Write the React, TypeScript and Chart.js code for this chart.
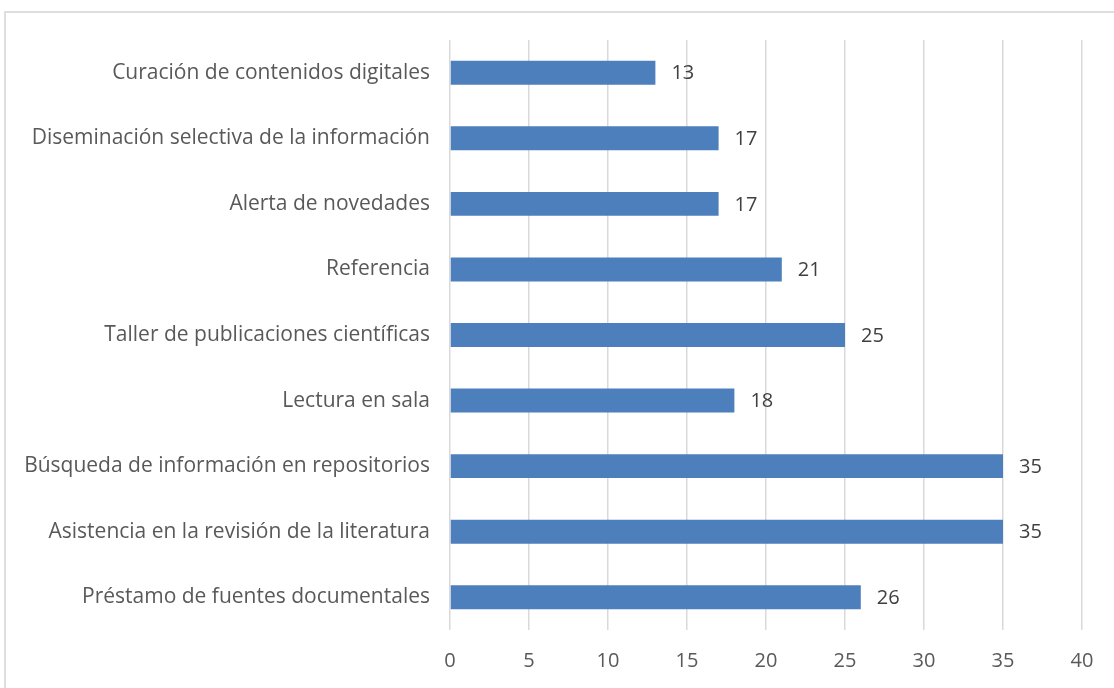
import React, { useEffect, useRef } from "react";
import { Chart, registerables } from "chart.js";

Chart.register(...registerables);

const categories = [
  "Curación de contenidos digitales",
  "Diseminación selectiva de la información",
  "Alerta de novedades",
  "Referencia",
  "Taller de publicaciones científicas",
  "Lectura en sala",
  "Búsqueda de información en repositorios",
  "Asistencia en la revisión de la literatura",
  "Préstamo de fuentes documentales",
];
const values = [13, 17, 17, 21, 25, 18, 35, 35, 26];
const xMin = 0;
const xMax = 40;
const xStep = 5;

const FONT = "'Open Sans', sans-serif";

const valueLabels = {
  id: "valueLabels",
  afterDatasetsDraw(chart: any) {
    const ctx = chart.ctx;
    const meta = chart.getDatasetMeta(0);
    ctx.save();
    ctx.font = `20px ${FONT}`;
    ctx.fillStyle = "#404040";
    ctx.textAlign = "left";
    ctx.textBaseline = "middle";
    meta.data.forEach((bar: any, i: number) => {
      ctx.fillText(String(values[i]), bar.x + 16, bar.y + 1);
    });
    ctx.restore();
  },
};

export default function App() {
  const ref = useRef<HTMLCanvasElement | null>(null);
  useEffect(() => {
    document.body.style.margin = "0";
    const chart = new Chart(ref.current as HTMLCanvasElement, {
      type: "bar",
      data: {
        labels: categories,
        datasets: [
          {
            data: values,
            backgroundColor: "#4e7fbd",
            borderWidth: 0,
            barPercentage: 0.73,
            categoryPercentage: 0.5,
          },
        ],
      },
      options: {
        indexAxis: "y",
        animation: false,
        responsive: false,
        maintainAspectRatio: false,
        layout: { padding: { top: 40, right: 32, left: 0, bottom: 0 } },
        plugins: { legend: { display: false }, tooltip: { enabled: false } },
        scales: {
          x: {
            min: xMin,
            max: xMax,
            ticks: {
              stepSize: xStep,
              color: "#595959",
              font: { family: FONT, size: 20 },
              padding: 19,
            },
            grid: { color: "#d9d9d9", lineWidth: 1.5, drawTicks: false },
            border: { display: false },
            afterFit: (s: any) => {
              s.height = 58;
            },
          },
          y: {
            ticks: {
              color: "#595959",
              font: { family: FONT, size: 21 },
              padding: 12,
              autoSkip: false,
            },
            grid: { display: false },
            border: { display: false },
            afterFit: (s: any) => {
              s.width = 450;
            },
          },
        },
      },
      plugins: [valueLabels],
    });
    return () => chart.destroy();
  }, []);

  return (
    <div
      style={{
        position: "relative",
        width: 1114,
        height: 688,
        overflow: "hidden",
        background: "#fff",
      }}
    >
      <div
        style={{
          position: "absolute",
          left: 4,
          top: 11,
          width: 1300,
          height: 900,
          border: "2px solid #dedede",
        }}
      />
      <canvas
        ref={ref}
        width={1114}
        height={688}
        style={{ position: "absolute", left: 0, top: 0 }}
      />
    </div>
  );
}
